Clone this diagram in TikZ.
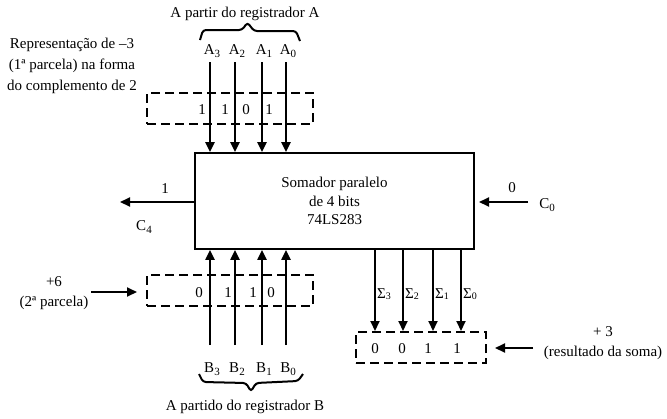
\documentclass[tikz,border=0pt]{standalone}
\usepackage{fontspec}
\setmainfont{Liberation Serif}
\usetikzlibrary{arrows.meta}
\newcommand{\lowsub}[1]{\raisebox{-3.5pt}{\fontsize{11}{11}\selectfont #1}}
\newcommand{\sigsub}[1]{\raisebox{-1pt}{\fontsize{10}{10}\selectfont #1}}
\begin{document}
\begin{tikzpicture}[x=1pt,y=-1pt,
  font=\fontsize{15}{17}\selectfont,
  arr/.style={line width=2pt,-{Triangle[length=10pt,width=9pt]}},
  dbox/.style={draw,line width=2pt,dash pattern=on 9pt off 5pt,inner sep=0pt},
  brace/.style={line width=2pt,rounded corners=3pt},
  lbl/.style={inner sep=0pt}]
\useasboundingbox (0,0) rectangle (667,418);

% main box
\node[draw,line width=1.7pt,minimum width=279pt,minimum height=96pt,inner sep=0pt,
      align=center,font=\fontsize{15}{18.5}\selectfont] (box) at (334.5,201)
  {Somador paralelo\\de 4 bits\\74LS283};

% dashed boxes
\node[dbox,minimum width=166pt,minimum height=31pt] (abox) at (230,108.5) {};
\node[dbox,minimum width=166pt,minimum height=31pt] (bbox) at (230,290.5) {};
\node[dbox,minimum width=130pt,minimum height=31pt] (sbox) at (421,347.5) {};

% A inputs
\foreach \n/\x in {3/210,2/235,1/262,0/286}{
  \coordinate (a\n) at (\x,62);
  \draw[arr] (a\n) -- (a\n |- box.north);
  \node[lbl,anchor=base] (la\n) at (\x+2,54) {A\lowsub{\n}};
}
\node[lbl] (d3) at (202,110) {1};
\node[lbl] (d2) at (225,110) {1};
\node[lbl] (d1) at (246,110) {0};
\node[lbl] (d0) at (269,110) {1};

% top brace
\coordinate (bra) at (200,40);
\coordinate (brb) at (300,41);
\draw[brace] (bra) -- (203,30) -- (242,30) -- (247.5,22.5) -- (254,31) -- (296,31) -- (brb);
\node[lbl] (ta) at (245,14) {A partir do registrador A};

% left text
\node[lbl,align=center,font=\fontsize{15}{21}\selectfont] (rep) at (72,66)
  {Representação de –3\\(1ª parcela) na forma\\do complemento de 2};

% B inputs
\foreach \n/\x in {3/210,2/235,1/262,0/286}{
  \coordinate (b\n) at (\x,345);
  \draw[arr] (b\n) -- (b\n |- box.south);
  \node[lbl,anchor=base] (lb\n) at (\x+2,372) {B\lowsub{\n}};
}
\node[lbl] (e3) at (199,293) {0};
\node[lbl] (e2) at (228,293) {1};
\node[lbl] (e1) at (253,293) {1};
\node[lbl] (e0) at (271,293) {0};

% bottom brace
\coordinate (bbra) at (199,374);
\coordinate (bbrb) at (303,374);
\draw[brace] (bbra) -- (203,382) -- (246,383) -- (251,391.5) -- (256,383) -- (298,381) -- (bbrb);
\node[lbl] (tb) at (245,407) {A partido do registrador B};

% +6
\node[lbl,align=center,font=\fontsize{15}{20}\selectfont] (p6) at (54,293) {+6\\(2ª parcela)};
\coordinate (p6s) at (91,292);
\coordinate (p6e) at (137,292);
\draw[arr] (p6s) -- (p6e);

% C4
\coordinate (c4e) at (120,202);
\draw[arr] (box.west |- c4e) -- (c4e);
\node[lbl] (one) at (165,189) {1};
\node[lbl,anchor=base] (c4) at (144,230) {C\lowsub{4}};

% C0
\coordinate (c0s) at (528,202);
\coordinate (c0e) at (479,202);
\draw[arr] (c0s) -- (c0e);
\node[lbl] (zero) at (512,188) {0};
\node[lbl,anchor=base] (c0) at (547,208) {C\lowsub{0}};

% sums
\foreach \n/\x in {3/375,2/403,1/433,0/461}{
  \coordinate (s\n) at (\x,249);
  \draw[arr] (s\n |- box.south) -- (s\n |- sbox.north);
  \node[lbl,anchor=base west] (ls\n) at (\x+2,298) {Σ\sigsub{\n}};
}
\node[lbl] (f3) at (375,349) {0};
\node[lbl] (f2) at (402,349) {0};
\node[lbl] (f1) at (428,349) {1};
\node[lbl] (f0) at (457,349) {1};

% +3
\coordinate (p3s) at (533,348);
\coordinate (p3e) at (495,348);
\draw[arr] (p3s) -- (p3e);
\node[lbl,align=center,font=\fontsize{15}{20}\selectfont] (p3) at (603,343) {+ 3\\(resultado da soma)};
\end{tikzpicture}
\end{document}
